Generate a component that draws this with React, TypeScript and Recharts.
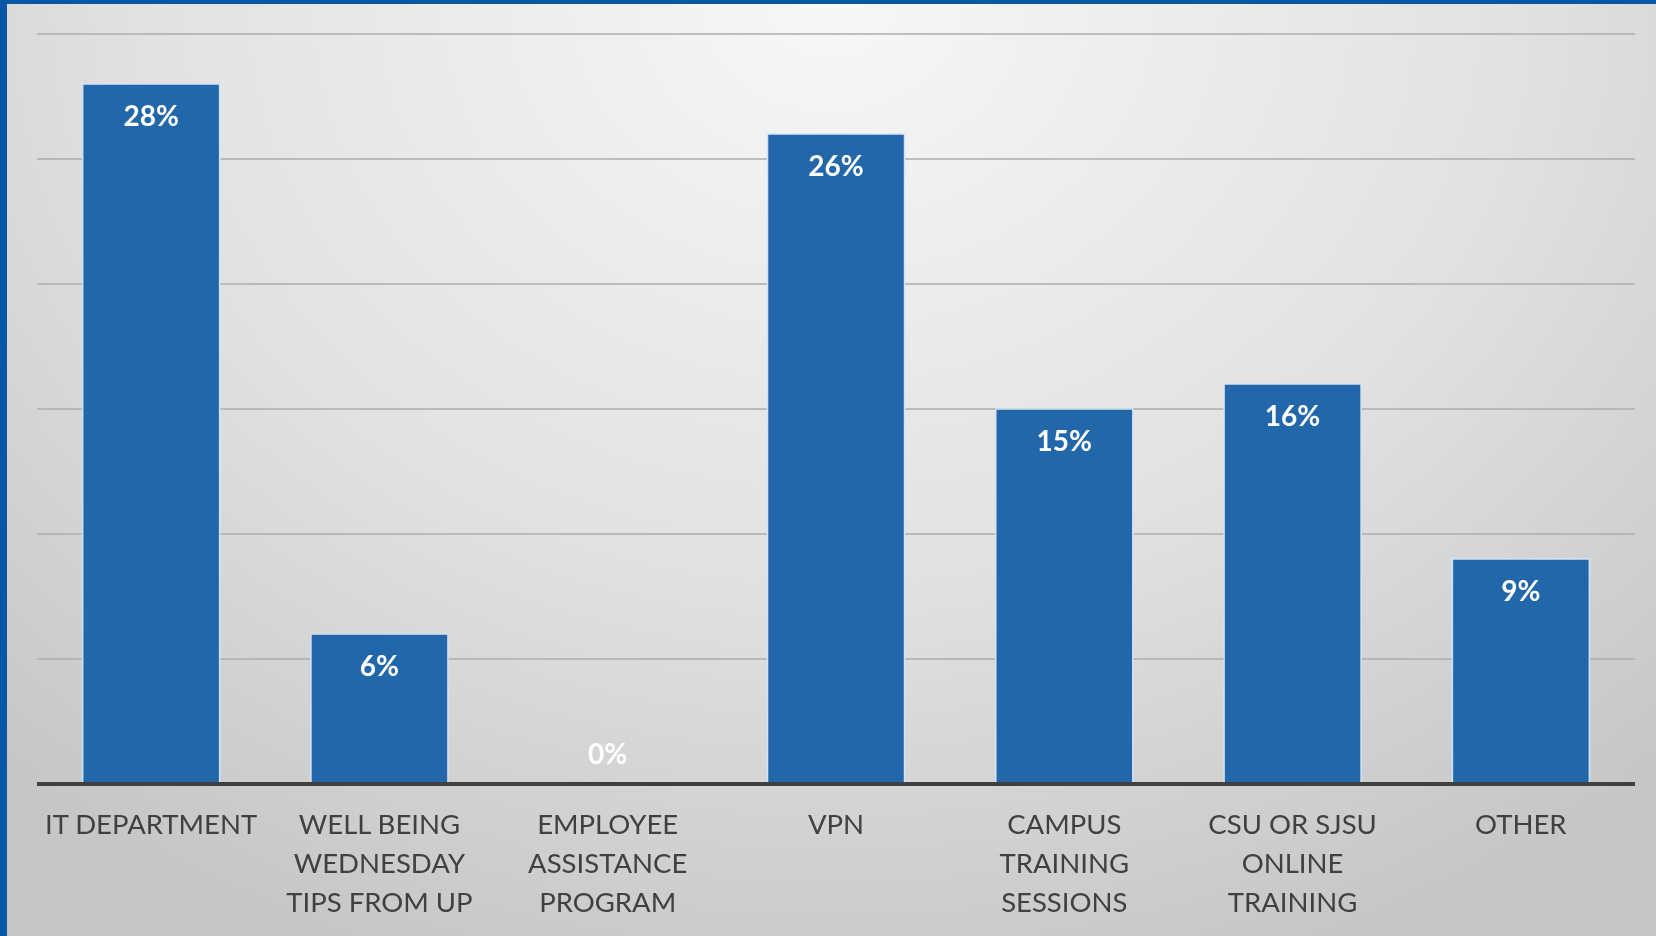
import { Bar, BarChart, CartesianGrid, LabelList, XAxis, YAxis } from "recharts";

const categories = [
  "IT DEPARTMENT",
  "WELL BEING\nWEDNESDAY\nTIPS FROM UP",
  "EMPLOYEE\nASSISTANCE\nPROGRAM",
  "VPN",
  "CAMPUS\nTRAINING\nSESSIONS",
  "CSU OR SJSU\nONLINE\nTRAINING",
  "OTHER",
];
const shares = [28, 6, 0, 26, 15, 16, 9];
const yTicks = [0, 5, 10, 15, 20, 25, 30];

const BAR_COLOR = "#2367ab";
const TEXT_COLOR = "#404040";
const FONT = "Lato, 'Open Sans', sans-serif";

const data = categories.map((name, i) => ({ name, value: shares[i] }));

// zero-height bars get no label from recharts, so the axis tick draws it
function CategoryTick(props: any) {
  const { x, y, payload, index } = props;
  const lines = String(payload.value).split("\n");
  const value = shares[index];
  return (
    <g>
      {value === 0 && (
        <text x={x} y={y - 20} textAnchor="middle" fill="#ffffff" fontSize={28} fontWeight={700} fontFamily={FONT}>
          {value}%
        </text>
      )}
      <text x={x} y={y} textAnchor="middle" fill={TEXT_COLOR} fontSize={27.5} fontFamily={FONT}>
        {lines.map((line, i) => (
          <tspan key={i} x={x} dy={i === 0 ? 50 : 39}>
            {line}
          </tspan>
        ))}
      </text>
    </g>
  );
}

function ValueLabel(props: any) {
  const { x, y, width, height, value } = props;
  if (!height) return null;
  return (
    <text x={x + width / 2} y={y + 42} textAnchor="middle" fill="#ffffff" fontSize={28} fontWeight={700} fontFamily={FONT}>
      {value}%
    </text>
  );
}

export default function App() {
  return (
    <div
      style={{
        position: "fixed",
        top: 0,
        left: 0,
        width: 1656,
        height: 936,
        boxSizing: "border-box",
        borderTop: "4px solid #0757a6",
        borderLeft: "7px solid #0757a6",
        background: "radial-gradient(ellipse 75% 110% at 50% 0%, #f7f7f7 0%, #e2e2e2 55%, #c6c6c6 100%)",
        overflow: "hidden",
      }}
    >
      <div style={{ position: "absolute", top: -4, left: -7 }}>
        <BarChart
          width={1656}
          height={936}
          data={data}
          margin={{ top: 34, right: 21, left: 37, bottom: 0 }}
          barCategoryGap="20%"
        >
          <CartesianGrid vertical={false} stroke="#acacac" strokeWidth={1.5} />
          <YAxis hide domain={[0, 30]} ticks={yTicks} />
          <XAxis
            dataKey="name"
            height={152}
            interval={0}
            tickLine={false}
            axisLine={{ stroke: TEXT_COLOR, strokeWidth: 4 }}
            tick={<CategoryTick />}
            tickSize={0}
            tickMargin={0}
          />
          <Bar dataKey="value" fill={BAR_COLOR} stroke="#d4e3f2" strokeWidth={1.5} isAnimationActive={false}>
            <LabelList dataKey="value" content={<ValueLabel />} />
          </Bar>
        </BarChart>
      </div>
    </div>
  );
}
